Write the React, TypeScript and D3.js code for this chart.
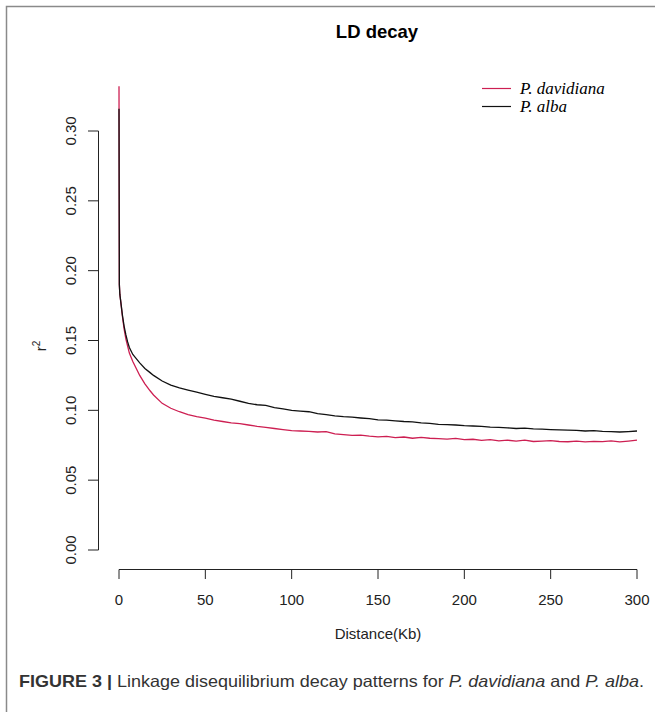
import React, { useEffect } from "react";
import * as d3 from "d3";

// distance in Kb
const distance = [
  0, 0.2, 0.5, 1, 2, 3, 4, 5, 6, 8, 10, 12, 15, 18, 20, 25, 30, 35, 40, 45,
  50, 55, 60, 65, 70, 75, 80, 85, 90, 95, 100, 105, 110, 115, 120, 125, 130,
  135, 140, 145, 150, 155, 160, 165, 170, 175, 180, 185, 190, 195, 200, 205,
  210, 215, 220, 225, 230, 235, 240, 245, 250, 255, 260, 265, 270, 275, 280,
  285, 290, 295, 300,
];

const davidiana = [
  0.332, 0.19, 0.183, 0.178, 0.167, 0.158, 0.151, 0.146, 0.141, 0.135, 0.13,
  0.125, 0.119, 0.114, 0.111, 0.105, 0.1015, 0.099, 0.097, 0.0955, 0.0945,
  0.093, 0.092, 0.091, 0.0905, 0.0895, 0.0885, 0.0878, 0.087, 0.0862, 0.0855,
  0.0852, 0.085, 0.0845, 0.0848, 0.0832, 0.0826, 0.082, 0.0823, 0.0815, 0.081,
  0.0813, 0.0805, 0.0809, 0.08, 0.0806, 0.08, 0.0797, 0.0794, 0.0799, 0.079,
  0.0793, 0.0785, 0.079, 0.0782, 0.0786, 0.078, 0.0786, 0.0777, 0.078, 0.0783,
  0.0777, 0.0775, 0.078, 0.0774, 0.0778, 0.0776, 0.0781, 0.0774, 0.078, 0.0786,
];

const alba = [
  0.316, 0.19, 0.183, 0.178, 0.168, 0.16, 0.154, 0.149, 0.145, 0.14, 0.137,
  0.134, 0.13, 0.127, 0.125, 0.121, 0.118, 0.116, 0.1145, 0.113, 0.1115, 0.11,
  0.109, 0.108, 0.1065, 0.105, 0.104, 0.1035, 0.102, 0.101, 0.1, 0.0995,
  0.099, 0.0976, 0.097, 0.0961, 0.0955, 0.0951, 0.0945, 0.094, 0.0932, 0.093,
  0.0925, 0.092, 0.0918, 0.091, 0.0906, 0.09, 0.0898, 0.0895, 0.089, 0.0888,
  0.0885, 0.088, 0.0878, 0.0875, 0.087, 0.0872, 0.0867, 0.0865, 0.0862, 0.086,
  0.0858, 0.0856, 0.0852, 0.0855, 0.085, 0.0848, 0.0845, 0.0848, 0.0852,
];

const xTicks = [0, 50, 100, 150, 200, 250, 300];
const yTicks = [0, 0.05, 0.1, 0.15, 0.2, 0.25, 0.3];

const series = [
  { name: "P. davidiana", values: davidiana, color: "#cd1f52" },
  { name: "P. alba", values: alba, color: "#111" },
];

export default function App() {
  useEffect(() => {
    document.body.style.margin = "0";
  }, []);

  const W = 655, H = 712;
  const x = d3.scaleLinear().domain([0, 300]).range([119, 637]);
  const y = d3.scaleLinear().domain([0, 0.3]).range([550, 131]);
  const sans = "'Liberation Sans', Arial, sans-serif";
  const serif = "'Liberation Serif', 'Times New Roman', serif";

  const lineFor = (vals: number[]) =>
    d3.line<number>()
      .x((_, i) => x(distance[i]))
      .y((d) => y(d))(vals) || "";

  return (
    <svg width={W} height={H} style={{ display: "block", background: "#fff" }}>
      {/* figure frame */}
      <path d={`M6.5,${H} V6.5 H${W}`} fill="none" stroke="#8a8a8a" strokeWidth={1.5} />

      <text x={377} y={38} textAnchor="middle" fontFamily={sans} fontWeight="bold" fontSize={18.5}>
        LD decay
      </text>

      {/* y axis */}
      <g fontFamily={sans} fontSize={15} fill="#222">
        <line x1={98.5} x2={98.5} y1={y(0)} y2={y(0.3)} stroke="#222" />
        {yTicks.map((t) => (
          <g key={t}>
            <line x1={88} x2={98.5} y1={y(t)} y2={y(t)} stroke="#222" />
            <text transform={`translate(76,${y(t)}) rotate(-90)`} textAnchor="middle">
              {d3.format(".2f")(t)}
            </text>
          </g>
        ))}
        <text transform={`translate(46,346) rotate(-90)`} textAnchor="middle">
          r<tspan dy={-6} fontSize={10}>2</tspan>
        </text>
      </g>

      {/* x axis */}
      <g fontFamily={sans} fontSize={15} fill="#222">
        <line x1={x(0)} x2={x(300)} y1={569.5} y2={569.5} stroke="#222" />
        {xTicks.map((t) => (
          <g key={t}>
            <line x1={x(t)} x2={x(t)} y1={569.5} y2={579} stroke="#222" />
            <text x={x(t)} y={605} textAnchor="middle">{t}</text>
          </g>
        ))}
        <text x={378} y={639} textAnchor="middle">Distance(Kb)</text>
      </g>

      {/* curves */}
      {series.map((s) => (
        <path key={s.name} d={lineFor(s.values)} fill="none" stroke={s.color} strokeWidth={1.3} />
      ))}

      {/* legend */}
      <g fontFamily={serif} fontStyle="italic" fontSize={17}>
        {series.map((s, i) => (
          <g key={s.name} transform={`translate(0,${88.5 + i * 18})`}>
            <line x1={482} x2={511} y1={0} y2={0} stroke={s.color} strokeWidth={1.2} />
            <text x={520} y={5}>{s.name}</text>
          </g>
        ))}
      </g>

      {/* caption */}
      <text x={19} y={687} fontFamily={sans} fontSize={16.5} fill="#333" textLength={625} lengthAdjust="spacingAndGlyphs">
        <tspan fontWeight="bold">FIGURE 3 | </tspan>
        <tspan>Linkage disequilibrium decay patterns for </tspan>
        <tspan fontStyle="italic">P. davidiana</tspan>
        <tspan> and </tspan>
        <tspan fontStyle="italic">P. alba</tspan>
        <tspan>.</tspan>
      </text>
    </svg>
  );
}
